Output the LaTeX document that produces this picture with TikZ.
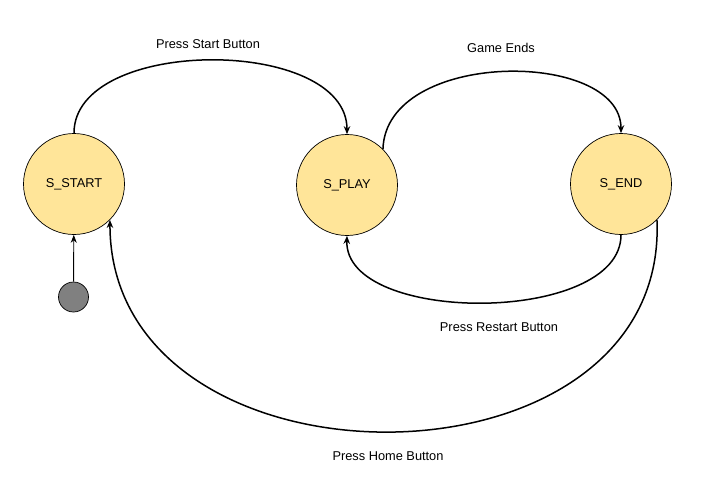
\documentclass[tikz,border=0pt]{standalone}
\usepackage{fontspec}
\setmainfont{Liberation Sans}
\usetikzlibrary{arrows.meta}
\definecolor{stfill}{HTML}{FFE599}
\definecolor{initfill}{HTML}{808080}
\begin{document}
\begin{tikzpicture}[x=1pt,y=-1pt,
  state/.style={circle,draw=black,line width=0.7pt,fill=stfill,minimum size=101pt,inner sep=0pt,font=\fontsize{12.8}{15}\selectfont},
  initstate/.style={circle,draw=black,line width=0.7pt,fill=initfill,minimum size=30pt,inner sep=0pt},
  trans/.style={line width=1.5pt,-{Stealth[length=8pt,width=6.5pt]}},
  inittrans/.style={line width=0.9pt,-{Stealth[length=8pt,width=6pt]}},
  lbl/.style={font=\fontsize{12.8}{15}\selectfont,inner sep=0pt}]
\useasboundingbox (0,0) rectangle (717,496);
\node[state] (start) at (74,184) {S\_START};
\node[state] (play) at (347,185) {S\_PLAY};
\node[state] (end) at (621,184) {S\_END};
\node[initstate] (init) at (73.5,297) {};
\draw[inittrans] (init) -- (start);
\draw[trans] (start.north) .. controls (74,36) and (347,36) .. (play.north);
\draw[trans] (play.45) .. controls (386,49) and (621,49) .. (end.north);
\draw[trans] (end.south) .. controls (621,325) and (344,325) .. (play.south);
\draw[trans] (end.-45) .. controls (669,502) and (110,502) .. (start.-45);
\node[lbl] (l1) at (208,44) {Press Start Button};
\node[lbl] (l2) at (501,48) {Game Ends};
\node[lbl] (l3) at (499,327) {Press Restart Button};
\node[lbl] (l4) at (388,456) {Press Home Button};
\end{tikzpicture}
\end{document}
